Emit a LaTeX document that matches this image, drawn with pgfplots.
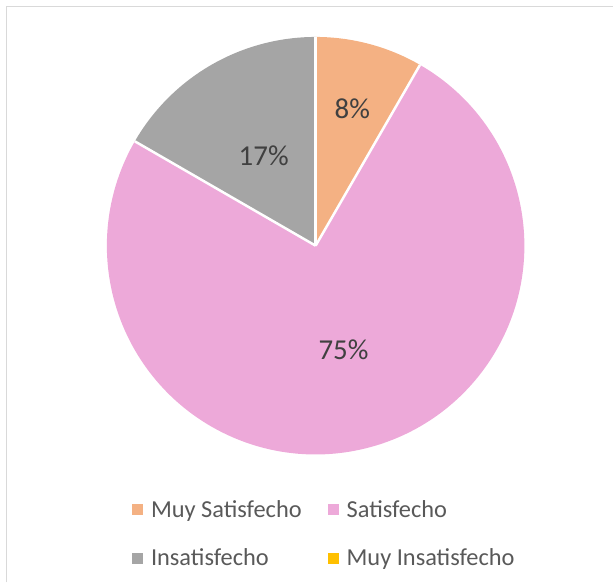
\documentclass[border=0pt]{standalone}
\usepackage{pgfplots}
\usepackage{pgfplotstable}
\pgfplotsset{compat=1.18}
\usepackage{fontspec}
\setmainfont{Carlito}
\definecolor{cMS}{HTML}{F4B183}
\definecolor{cS}{HTML}{EDA9D9}
\definecolor{cI}{HTML}{A5A5A5}
\definecolor{cMI}{HTML}{FFC000}
\definecolor{frm}{HTML}{D9D9D9}
\definecolor{lbl}{HTML}{404040}
\definecolor{leg}{HTML}{595959}

\pgfplotstableread{
label value
MuySatisfecho 8.333
Satisfecho 75.0
Insatisfecho 16.667
MuyInsatisfecho 0
}\piedata

\begin{document}
\begin{tikzpicture}
\pgfplotstablegetelem{0}{value}\of\piedata \let\vA\pgfplotsretval
\pgfplotstablegetelem{1}{value}\of\piedata \let\vB\pgfplotsretval
\pgfplotstablegetelem{2}{value}\of\piedata \let\vC\pgfplotsretval
\pgfplotstablegetelem{3}{value}\of\piedata \let\vD\pgfplotsretval
\pgfmathsetmacro\aA{90}
\pgfmathsetmacro\aB{\aA-3.6*\vA}
\pgfmathsetmacro\aC{\aB-3.6*\vB}
\pgfmathsetmacro\aD{\aC-3.6*\vC}
\pgfmathsetmacro\mA{(\aA+\aB)/2}
\pgfmathsetmacro\mB{(\aB+\aC)/2}
\pgfmathsetmacro\mC{(\aC+\aD)/2}
\begin{axis}[
  width=614bp, height=583bp, scale only axis,
  xmin=0, xmax=614, ymin=0, ymax=583,
  hide axis, clip=false,
  legend columns=2,
  legend image code/.code={\path[#1] (0bp,-5.5bp) rectangle (11bp,5.5bp);},
  legend style={at={(axis cs:132,84)}, anchor=north west, draw=none, fill=none,
    font=\fontsize{24.5}{28}\selectfont, text=leg, cells={anchor=west},
    inner sep=0pt, row sep=26bp,
    /tikz/every odd column/.append style={column sep=6bp},
    /tikz/every even column/.append style={column sep=24bp}},
]
\path (axis cs:0,0) rectangle (axis cs:614,583);
\draw[frm, line width=1.5bp] (axis cs:6.5,0) -- (axis cs:6.5,576.5) -- (axis cs:614,576.5);
\addlegendimage{fill=cMS, draw=none}\addlegendentry{Muy Satisfecho}
\addlegendimage{fill=cS, draw=none}\addlegendentry{Satisfecho}
\addlegendimage{fill=cI, draw=none}\addlegendentry{Insatisfecho}
\addlegendimage{fill=cMI, draw=none}\addlegendentry{Muy Insatisfecho}
\fill[cMS] (axis cs:316,337) -- ++(\aA:209bp) arc[start angle=\aA, end angle=\aB, radius=209bp] -- cycle;
\fill[cS] (axis cs:316,337) -- ++(\aB:209bp) arc[start angle=\aB, end angle=\aC, radius=209bp] -- cycle;
\fill[cI] (axis cs:316,337) -- ++(\aC:209bp) arc[start angle=\aC, end angle=\aD, radius=209bp] -- cycle;
\draw[white, line width=2.5bp] (axis cs:316,337) -- ++(\aA:209bp);
\draw[white, line width=2.5bp] (axis cs:316,337) -- ++(\aB:209bp);
\draw[white, line width=2.5bp] (axis cs:316,337) -- ++(\aC:209bp);
\node[lbl, font=\fontsize{29}{32}\selectfont] at ([shift={(\mA:142bp)}]axis cs:316,337) {\pgfmathprintnumber[precision=0,assume math mode=true]{\vA}\%};
\node[lbl, font=\fontsize{29}{32}\selectfont] at ([shift={(\mB:108bp)}]axis cs:316,337) {\pgfmathprintnumber[precision=0,assume math mode=true]{\vB}\%};
\node[lbl, font=\fontsize{29}{32}\selectfont] at ([shift={(\mC:104bp)}]axis cs:316,337) {\pgfmathprintnumber[precision=0,assume math mode=true]{\vC}\%};
\end{axis}
\end{tikzpicture}
\end{document}
